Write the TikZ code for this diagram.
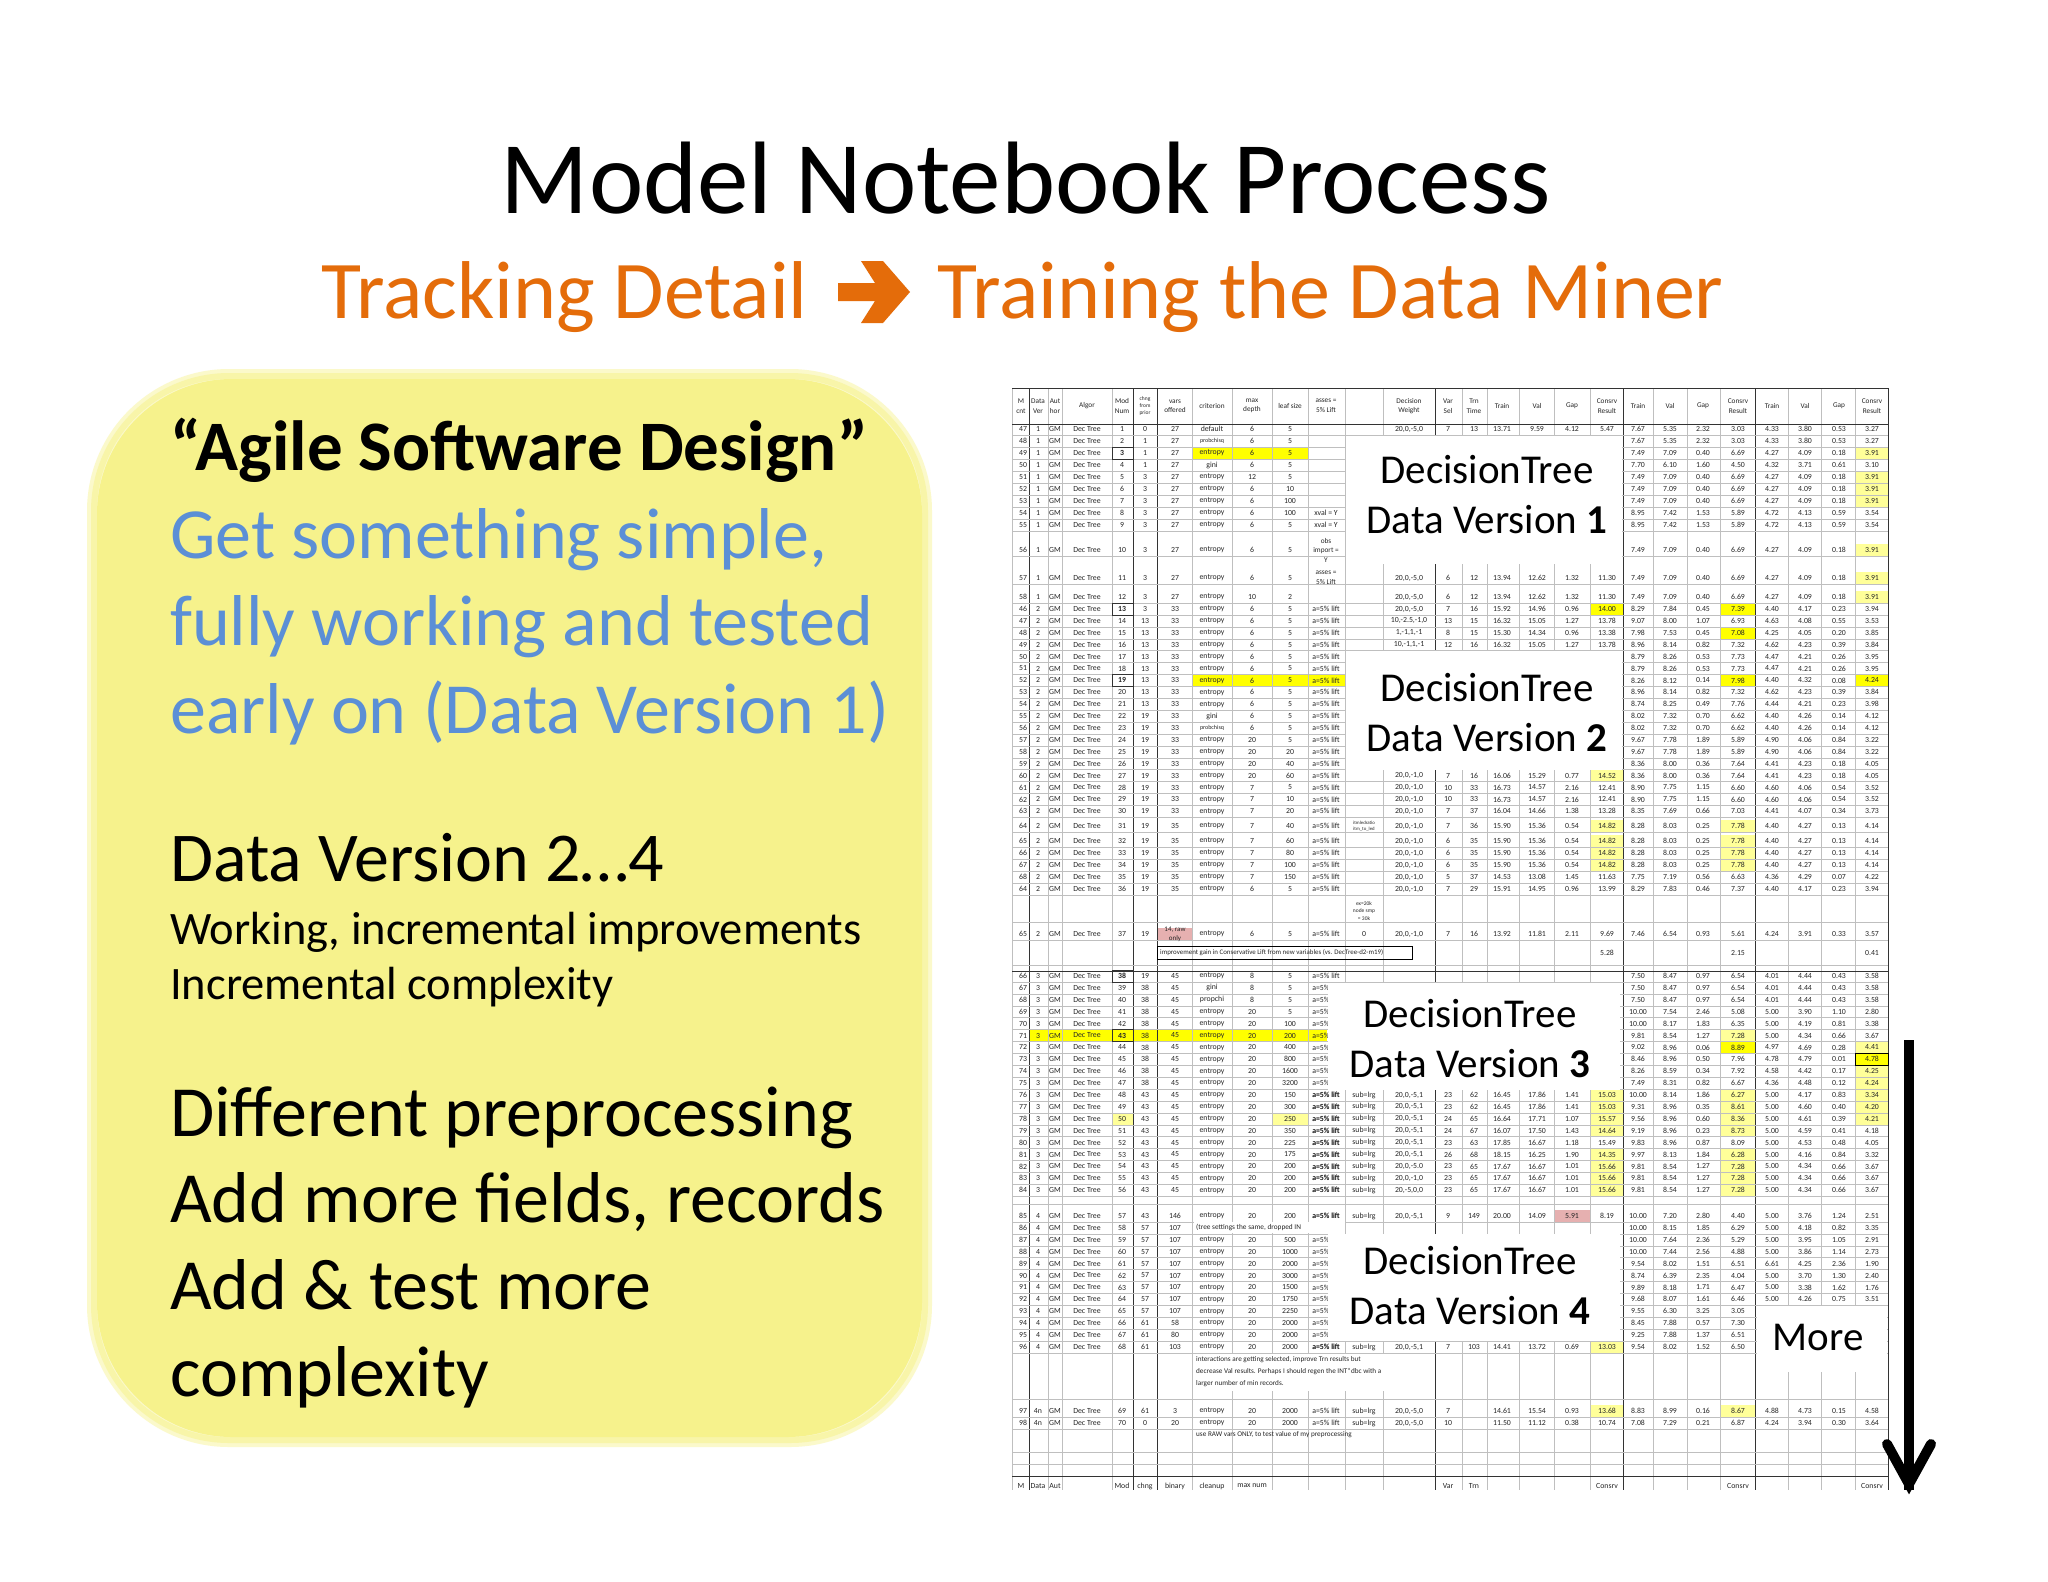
\documentclass[tikz,border=0pt]{standalone}
\usepackage{fontspec}
\setmainfont{Carlito}
\definecolor{orng}{HTML}{E46C0A}
\definecolor{blu}{HTML}{5B8FD6}
\definecolor{pyel}{HTML}{F6F28C}
\definecolor{hy}{HTML}{FFFF00}
\definecolor{ly}{HTML}{FFFF99}
\definecolor{pk}{HTML}{E6B0B0}
\tikzset{
 cl/.style={font=\fontsize{7.8}{7.8}\selectfont, inner sep=0pt, anchor=center, text=black!85},
 sm/.style={font=\fontsize{6.3}{6.3}\selectfont},
 lab/.style={font=\fontsize{41}{44}\selectfont, inner sep=0pt, anchor=center},
 gl/.style={draw=black!25, line width=0.5pt},
}
\newcommand\Lrow[9]{%
 \node[cl] at (1023,#1) {#2}; \node[cl] at (1038,#1) {#3}; \node[cl] at (1055,#1) {GM};
 \node[cl] at (1087,#1) {Dec Tree}; \node[cl] at (1122,#1) {#4}; \node[cl] at (1145,#1) {#5};
 \node[cl] at (1175,#1) {#6}; \node[cl] at (1212,#1) {#7}; \node[cl] at (1252,#1) {#8};
 \node[cl] at (1290,#1) {#9};
 \draw[gl] (1012,#1+6) -- (1888,#1+6);}
\newcommand\Rrow[9]{%
 \node[cl] at (1638,#1) {#2}; \node[cl] at (1670,#1) {#3}; \node[cl] at (1703,#1) {#4};
 \node[cl] at (1738,#1) {#5}; \node[cl] at (1772,#1) {#6}; \node[cl] at (1805,#1) {#7};
 \node[cl] at (1839,#1) {#8}; \node[cl] at (1872,#1) {#9};}
\newcommand\Mrow[9]{%
 \node[cl] at (1326,#1) {#2}; \node[cl] at (1409,#1) {#3}; \node[cl] at (1448,#1) {#4};
 \node[cl] at (1474,#1) {#5}; \node[cl] at (1502,#1) {#6}; \node[cl] at (1537,#1) {#7};
 \node[cl] at (1572,#1) {#8}; \node[cl] at (1607,#1) {#9};}
\newcommand\hcell[4][hy]{\fill[#1] (#2,#3-6) rectangle (#4,#3+6);}
\begin{document}
\begin{tikzpicture}[x=1pt,y=-1pt]
\useasboundingbox[fill=white] (0,0) rectangle (2048,1582);
% title
\node[font=\fontsize{103}{106}\selectfont, inner sep=0] (title) at (1026,178) {Model Notebook Process};
\node[font=\fontsize{82}{86}\selectfont, text=orng, inner sep=0, anchor=base east] (st1) at (808,318) {Tracking Detail};
\node[font=\fontsize{82}{86}\selectfont, text=orng, inner sep=0, anchor=base west] (st2) at (937,318) {Training the Data Miner};
\fill[orng] (838,283) -- (875,283) -- (861,261) -- (883,261) -- (910,292) -- (883,323) -- (861,323) -- (875,301) -- (838,301) -- cycle;
% yellow box
\draw[line width=14pt, draw=pyel!45, rounded corners=135pt] (94,376) rectangle (925,1440);
\draw[line width=6pt, draw=pyel!75, rounded corners=135pt] (94,376) rectangle (925,1440);
\fill[pyel, rounded corners=135pt] (97,379) rectangle (922,1437);
\node[font=\bfseries\fontsize{71}{74}\selectfont, anchor=base west, inner sep=0] (agile) at (170,470) {“Agile Software Design”};
\node[font=\fontsize{72}{76}\selectfont, text=blu, anchor=base west, inner sep=0] (b1) at (170,558) {Get something simple,};
\node[font=\fontsize{72}{76}\selectfont, text=blu, anchor=base west, inner sep=0] (b2) at (170,645) {fully working and tested};
\node[font=\fontsize{72}{76}\selectfont, text=blu, anchor=base west, inner sep=0] (b3) at (170,733) {early on (Data Version 1)};
\node[font=\fontsize{70}{74}\selectfont, anchor=base west, inner sep=0] (dv) at (170,881) {Data Version 2…4};
\node[font=\fontsize{46.5}{50}\selectfont, anchor=base west, inner sep=0] (w1) at (170,944) {Working, incremental improvements};
\node[font=\fontsize{46.5}{50}\selectfont, anchor=base west, inner sep=0] (w2) at (170,999) {Incremental complexity};
\node[font=\fontsize{72}{76}\selectfont, anchor=base west, inner sep=0] (d1) at (170,1136) {Different preprocessing};
\node[font=\fontsize{72}{76}\selectfont, anchor=base west, inner sep=0] (d2) at (170,1222) {Add more fields, records};
\node[font=\fontsize{72}{76}\selectfont, anchor=base west, inner sep=0] (d3) at (170,1309) {Add \& test more};
\node[font=\fontsize{72}{76}\selectfont, anchor=base west, inner sep=0] (d4) at (170,1396) {complexity};
% ---------- spreadsheet highlights ----------
\hcell{1192}{453}{1308}
\foreach \y in {453,477,489,501,550,578,597}{\hcell[ly]{1855}{\y}{1888}}
\hcell{1590}{609}{1623} \hcell{1720}{609}{1755}
\hcell{1192}{680.4}{1345} \hcell{1720}{680.4}{1755} \hcell{1855}{680.4}{1888}
\hcell{1720}{632.8}{1755} \hcell[ly]{1590}{775.6}{1623}
\foreach \y in {826,841,853,865}{\hcell[ly]{1590}{\y}{1623}\hcell[ly]{1720}{\y}{1755}}
\hcell[pk]{1157}{934}{1192}
\hcell{1029}{1035.5}{1112} \hcell{1133}{1035.5}{1327}\hcell[ly]{1720}{1035.5}{1755}
\hcell{1112}{1035.5}{1133}
\foreach \y in {1047.4,1071.2,1083.1}{\hcell[ly]{1855}{\y}{1888}}
\hcell{1855}{1059.3}{1888} \hcell{1720}{1047.4}{1755}
\foreach \y in {1095,1106.9,1118.8}{\hcell[ly]{1720}{\y}{1755}\hcell[ly]{1855}{\y}{1888}\hcell[ly]{1590}{\y}{1623}}
\hcell[ly]{1720}{1130.7}{1755}\hcell[ly]{1590}{1130.7}{1623}
\foreach \y in {1154.5,1166.4,1178.3,1190.2}{\hcell[ly]{1720}{\y}{1755}\hcell[ly]{1590}{\y}{1623}}
\hcell[ly]{1112}{1118.8}{1133}\hcell[ly]{1272}{1118.8}{1308}
\hcell[pk]{1555}{1216}{1590}
\hcell[ly]{1590}{1347}{1623}
\hcell[ly]{1590}{1411}{1623}\hcell[ly]{1720}{1411}{1755}
% ---------- grid ----------
\foreach \x in {1012,1048,1062,1112,1192,1232,1272,1308,1345,1383,1462,1487,1519,1554,1590,1653,1687,1720,1788,1821,1855}
 {\draw[gl] (\x,388) -- (\x,1490);}
\foreach \x in {1029,1133,1157,1435,1623,1755,1888}
 {\draw[black!80, line width=0.9pt] (\x,388) -- (\x,1490);}
\draw[black!80, line width=0.9pt] (1012,388) -- (1888,388);
\draw[black!80, line width=1pt] (1012,424) -- (1888,424);
\draw[black!80, line width=0.9pt] (1012,603) -- (1888,603);
\draw[black!80, line width=0.9pt] (1012,971) -- (1888,971);
\draw[black!80, line width=0.9pt] (1012,1476) -- (1888,1476);
% header
\foreach \x/\t in {1021/{M\\cnt},1038/{Data\\Ver},1055/{Aut\\hor},1087/{Algor},1122/{Mod\\Num},1175/{vars\\offered},1212/{criterion},1252/{max\\depth},1290/{leaf size},1326/{asses =\\5\% Lift},1409/{Decision\\Weight},1448/{Var\\Sel},1474/{Trn\\Time},1502/{Train},1537/{Val},1572/{Gap},1607/{Consrv\\Result},1638/{Train},1670/{Val},1703/{Gap},1738/{Consrv\\Result},1772/{Train},1805/{Val},1839/{Gap},1872/{Consrv\\Result}}
 {\node[cl, align=center, font=\fontsize{7.3}{9.5}\selectfont] at (\x,406) {\t};}
\node[cl, align=center, font=\fontsize{5.5}{7}\selectfont] at (1145,406) {chng\\from\\prior};
% ---------- section 1 ----------
\Lrow{429}{47}{1}{1}{0}{27}{default}{6}{5}
\Lrow{441}{48}{1}{2}{1}{27}{\scriptsize\fontsize{6}{6}\selectfont probchisq}{6}{5}
\Lrow{453}{49}{1}{\textbf{3}}{1}{27}{entropy}{6}{5}
\Lrow{465}{50}{1}{4}{1}{27}{gini}{6}{5}
\Lrow{477}{51}{1}{5}{3}{27}{entropy}{12}{5}
\Lrow{489}{52}{1}{6}{3}{27}{entropy}{6}{10}
\Lrow{501}{53}{1}{7}{3}{27}{entropy}{6}{100}
\Lrow{513}{54}{1}{8}{3}{27}{entropy}{6}{100}
\Lrow{525}{55}{1}{9}{3}{27}{entropy}{6}{5}
\Lrow{550}{56}{1}{10}{3}{27}{entropy}{6}{5}
\Lrow{578}{57}{1}{11}{3}{27}{entropy}{6}{5}
\Lrow{597}{58}{1}{12}{3}{27}{entropy}{10}{2}
\draw[black!80,line width=0.7pt] (1112,447) rectangle (1133,459);
\node[cl] at (1326,513) {xval = Y}; \node[cl] at (1326,525) {xval = Y};
\node[cl, align=center, font=\fontsize{7.3}{9.5}\selectfont] at (1326,550) {obs\\import =\\Y};
\Mrow{429}{}{20,0,-5,0}{7}{13}{13.71}{9.59}{4.12}{5.47}
\Mrow{578}{}{20,0,-5,0}{6}{12}{13.94}{12.62}{1.32}{11.30}
\node[cl, align=center, font=\fontsize{7.3}{9.5}\selectfont] at (1326,578) {asses =\\5\% Lift};
\Mrow{597}{}{20,0,-5,0}{6}{12}{13.94}{12.62}{1.32}{11.30}
\Rrow{429}{7.67}{5.35}{2.32}{3.03}{4.33}{3.80}{0.53}{3.27}
\Rrow{441}{7.67}{5.35}{2.32}{3.03}{4.33}{3.80}{0.53}{3.27}
\Rrow{453}{7.49}{7.09}{0.40}{6.69}{4.27}{4.09}{0.18}{3.91}
\Rrow{465}{7.70}{6.10}{1.60}{4.50}{4.32}{3.71}{0.61}{3.10}
\Rrow{477}{7.49}{7.09}{0.40}{6.69}{4.27}{4.09}{0.18}{3.91}
\Rrow{489}{7.49}{7.09}{0.40}{6.69}{4.27}{4.09}{0.18}{3.91}
\Rrow{501}{7.49}{7.09}{0.40}{6.69}{4.27}{4.09}{0.18}{3.91}
\Rrow{513}{8.95}{7.42}{1.53}{5.89}{4.72}{4.13}{0.59}{3.54}
\Rrow{525}{8.95}{7.42}{1.53}{5.89}{4.72}{4.13}{0.59}{3.54}
\Rrow{550}{7.49}{7.09}{0.40}{6.69}{4.27}{4.09}{0.18}{3.91}
\Rrow{578}{7.49}{7.09}{0.40}{6.69}{4.27}{4.09}{0.18}{3.91}
\Rrow{597}{7.49}{7.09}{0.40}{6.69}{4.27}{4.09}{0.18}{3.91}
% ---------- section 2 ----------
\foreach [count=\k from 0] \c/\m/\ch/\cr/\d/\l in {46/\textbf{13}/3/entropy/6/5,47/14/13/entropy/6/5,48/15/13/entropy/6/5,49/16/13/entropy/6/5,50/17/13/entropy/6/5,51/18/13/entropy/6/5,52/\textbf{19}/13/entropy/6/5,53/20/13/entropy/6/5,54/21/13/entropy/6/5,55/22/19/gini/6/5,56/23/19/{\fontsize{6}{6}\selectfont probchisq}/6/5,57/24/19/entropy/20/5,58/25/19/entropy/20/20,59/26/19/entropy/20/40,60/27/19/entropy/20/60,61/28/19/entropy/7/5,62/29/19/entropy/7/10,63/30/19/entropy/7/20}
 {\pgfmathsetmacro\yy{609+11.9*\k}
  \Lrow{\yy}{\c}{2}{\m}{\ch}{33}{\cr}{\d}{\l}
  \node[cl] at (1326,\yy) {a=5\% lift};}
\foreach \y/\c/\m/\d/\l in {826/64/31/7/40,841/65/32/7/60,853/66/33/7/80,865/67/34/7/100,877/68/35/7/150,889/64/36/6/5}
 {\Lrow{\y}{\c}{2}{\m}{19}{35}{entropy}{\d}{\l}
  \node[cl] at (1326,\y) {a=5\% lift};}
\node[cl, align=center, font=\fontsize{4.8}{5.5}\selectfont] at (1364,826) {itmledratio\\itm\_to\_led};
\Lrow{934}{65}{2}{37}{19}{}{entropy}{6}{5}
\node[cl, align=center, font=\fontsize{7}{9}\selectfont] at (1175,934) {14, raw\\only};
\node[cl] at (1326,934) {a=5\% lift}; \node[cl] at (1364,934) {0};
\node[cl, align=center, font=\fontsize{5.5}{7.5}\selectfont] at (1364,911) {ex=20k\\node smp\\= 30k};
\foreach \y/\w/\v/\t/\a/\b/\g/\s in {609/{20,0,-5,0}/7/16/15.92/14.96/0.96/14.00,620.9/{10,-2.5,-1,0}/13/15/16.32/15.05/1.27/13.78,632.8/{1,-1,1,-1}/8/15/15.30/14.34/0.96/13.38,644.7/{10,-1,1,-1}/12/16/16.32/15.05/1.27/13.78,775.6/{20,0,-1,0}/7/16/16.06/15.29/0.77/14.52,787.5/{20,0,-1,0}/10/33/16.73/14.57/2.16/12.41,799.4/{20,0,-1,0}/10/33/16.73/14.57/2.16/12.41,811.3/{20,0,-1,0}/7/37/16.04/14.66/1.38/13.28,826/{20,0,-1,0}/7/36/15.90/15.36/0.54/14.82,841/{20,0,-1,0}/6/35/15.90/15.36/0.54/14.82,853/{20,0,-1,0}/6/35/15.90/15.36/0.54/14.82,865/{20,0,-1,0}/6/35/15.90/15.36/0.54/14.82,877/{20,0,-1,0}/5/37/14.53/13.08/1.45/11.63,889/{20,0,-1,0}/7/29/15.91/14.95/0.96/13.99,934/{20,0,-1,0}/7/16/13.92/11.81/2.11/9.69}
 {\Mrow{\y}{}{\w}{\v}{\t}{\a}{\b}{\g}{\s}}
\foreach \y/\a/\b/\g/\s/\e/\f/\h/\i in {609/8.29/7.84/0.45/7.39/4.40/4.17/0.23/3.94,620.9/9.07/8.00/1.07/6.93/4.63/4.08/0.55/3.53,632.8/7.98/7.53/0.45/7.08/4.25/4.05/0.20/3.85,644.7/8.96/8.14/0.82/7.32/4.62/4.23/0.39/3.84,656.6/8.79/8.26/0.53/7.73/4.47/4.21/0.26/3.95,668.5/8.79/8.26/0.53/7.73/4.47/4.21/0.26/3.95,680.4/8.26/8.12/0.14/7.98/4.40/4.32/0.08/4.24,692.3/8.96/8.14/0.82/7.32/4.62/4.23/0.39/3.84,704.2/8.74/8.25/0.49/7.76/4.44/4.21/0.23/3.98,716.1/8.02/7.32/0.70/6.62/4.40/4.26/0.14/4.12,728/8.02/7.32/0.70/6.62/4.40/4.26/0.14/4.12,739.9/9.67/7.78/1.89/5.89/4.90/4.06/0.84/3.22,751.8/9.67/7.78/1.89/5.89/4.90/4.06/0.84/3.22,763.7/8.36/8.00/0.36/7.64/4.41/4.23/0.18/4.05,775.6/8.36/8.00/0.36/7.64/4.41/4.23/0.18/4.05,787.5/8.90/7.75/1.15/6.60/4.60/4.06/0.54/3.52,799.4/8.90/7.75/1.15/6.60/4.60/4.06/0.54/3.52,811.3/8.35/7.69/0.66/7.03/4.41/4.07/0.34/3.73,826/8.28/8.03/0.25/7.78/4.40/4.27/0.13/4.14,841/8.28/8.03/0.25/7.78/4.40/4.27/0.13/4.14,853/8.28/8.03/0.25/7.78/4.40/4.27/0.13/4.14,865/8.28/8.03/0.25/7.78/4.40/4.27/0.13/4.14,877/7.75/7.19/0.56/6.63/4.36/4.29/0.07/4.22,889/8.29/7.83/0.46/7.37/4.40/4.17/0.23/3.94,934/7.46/6.54/0.93/5.61/4.24/3.91/0.33/3.57}
 {\Rrow{\y}{\a}{\b}{\g}{\s}{\e}{\f}{\h}{\i}}
\draw[black!80, line width=0.7pt] (1112,603) rectangle (1133,615);
\draw[black!80, line width=0.7pt] (1112,674.4) rectangle (1133,686.4);
\draw[gl] (1012,922) -- (1888,922);
\draw[black, line width=0.8pt] (1157,946) rectangle (1412,959);
\node[cl, anchor=west, font=\fontsize{6.9}{7}\selectfont] at (1160,952.5) {improvement gain in Conservative Lift  from new variables (vs. DecTree-d2-m19)};
\node[cl] at (1607,952.5) {5.28}; \node[cl] at (1738,952.5) {2.15}; \node[cl] at (1872,952.5) {0.41};
\draw[gl] (1012,965) -- (1888,965);
% ---------- section 3 ----------
\foreach [count=\k from 0] \c/\m/\ch/\cr/\d/\l in {66/\textbf{38}/19/entropy/8/5,67/39/38/gini/8/5,68/40/38/propchi/8/5,69/41/38/entropy/20/5,70/42/38/entropy/20/100,71/\textbf{43}/38/entropy/20/200,72/44/38/entropy/20/400,73/45/38/entropy/20/800,74/46/38/entropy/20/1600,75/47/38/entropy/20/3200,76/48/43/entropy/20/150,77/49/43/entropy/20/300,78/50/43/entropy/20/250,79/51/43/entropy/20/350,80/52/43/entropy/20/225,81/53/43/entropy/20/175,82/54/43/entropy/20/200,83/55/43/entropy/20/200,84/56/43/entropy/20/200}
 {\pgfmathsetmacro\yy{976+11.9*\k}
  \Lrow{\yy}{\c}{3}{\m}{\ch}{45}{\cr}{\d}{\l}
  \node[cl] at (1326,\yy) {a=5\% lift};}
\draw[black!80, line width=0.7pt] (1112,970) rectangle (1133,982);
\draw[black!80, line width=0.7pt] (1112,1029.5) rectangle (1133,1041.5);
\foreach \y/\w/\v/\t/\a/\b/\g/\s in {1095/{20,0,-5,1}/23/62/16.45/17.86/1.41/15.03,1106.9/{20,0,-5,1}/23/62/16.45/17.86/1.41/15.03,1118.8/{20,0,-5,1}/24/65/16.64/17.71/1.07/15.57,1130.7/{20,0,-5,1}/24/67/16.07/17.50/1.43/14.64,1142.6/{20,0,-5,1}/23/63/17.85/16.67/1.18/15.49,1154.5/{20,0,-5,1}/26/68/18.15/16.25/1.90/14.35,1166.4/{20,0,-5.0}/23/65/17.67/16.67/1.01/15.66,1178.3/{20,0,-1,0}/23/65/17.67/16.67/1.01/15.66,1190.2/{20,-5,0,0}/23/65/17.67/16.67/1.01/15.66}
 {\Mrow{\y}{a=5\% lift}{\w}{\v}{\t}{\a}{\b}{\g}{\s}\node[cl] at (1364,\y) {sub=lrg};}
\foreach \y/\a/\b/\g/\s/\e/\f/\h/\i in {976/7.50/8.47/0.97/6.54/4.01/4.44/0.43/3.58,987.9/7.50/8.47/0.97/6.54/4.01/4.44/0.43/3.58,999.8/7.50/8.47/0.97/6.54/4.01/4.44/0.43/3.58,1011.7/10.00/7.54/2.46/5.08/5.00/3.90/1.10/2.80,1023.6/10.00/8.17/1.83/6.35/5.00/4.19/0.81/3.38,1035.5/9.81/8.54/1.27/7.28/5.00/4.34/0.66/3.67,1047.4/9.02/8.96/0.06/8.89/4.97/4.69/0.28/4.41,1059.3/8.46/8.96/0.50/7.96/4.78/4.79/0.01/4.78,1071.2/8.26/8.59/0.34/7.92/4.58/4.42/0.17/4.25,1083.1/7.49/8.31/0.82/6.67/4.36/4.48/0.12/4.24,1095/10.00/8.14/1.86/6.27/5.00/4.17/0.83/3.34,1106.9/9.31/8.96/0.35/8.61/5.00/4.60/0.40/4.20,1118.8/9.56/8.96/0.60/8.36/5.00/4.61/0.39/4.21,1130.7/9.19/8.96/0.23/8.73/5.00/4.59/0.41/4.18,1142.6/9.83/8.96/0.87/8.09/5.00/4.53/0.48/4.05,1154.5/9.97/8.13/1.84/6.28/5.00/4.16/0.84/3.32,1166.4/9.81/8.54/1.27/7.28/5.00/4.34/0.66/3.67,1178.3/9.81/8.54/1.27/7.28/5.00/4.34/0.66/3.67,1190.2/9.81/8.54/1.27/7.28/5.00/4.34/0.66/3.67}
 {\Rrow{\y}{\a}{\b}{\g}{\s}{\e}{\f}{\h}{\i}}
\draw[black, line width=0.8pt] (1855,1053.3) rectangle (1888,1065.3);
\draw[gl] (1012,1204) -- (1888,1204);
% ---------- section 4 ----------
\foreach [count=\k from 0] \m/\ch/\va/\l in {57/43/146/200,58/57/107/,59/57/107/500,60/57/107/1000,61/57/107/2000,62/57/107/3000,63/57/107/1500,64/57/107/1750,65/57/107/2250,66/61/58/2000,67/61/80/2000,68/61/103/2000}
 {\pgfmathsetmacro\yy{1216+11.9*\k}\pgfmathtruncatemacro\cc{85+\k}
  \Lrow{\yy}{\cc}{4}{\m}{\ch}{\va}{entropy}{20}{\l}
  \node[cl] at (1326,\yy) {a=5\% lift};}
\fill[white] (1194,1222) rectangle (1345,1233);
\node[cl, anchor=west, font=\fontsize{7.3}{7.3}\selectfont] at (1196,1227.9) {(tree settings the same, dropped IN};
\Mrow{1216}{a=5\% lift}{20,0,-5,1}{9}{149}{20.00}{14.09}{5.91}{8.19}\node[cl] at (1364,1216) {sub=lrg};
\Mrow{1347}{a=5\% lift}{20,0,-5,1}{7}{103}{14.41}{13.72}{0.69}{13.03}\node[cl] at (1364,1347) {sub=lrg};
\foreach \y/\a/\b/\g/\s/\e/\f/\h/\i in {1216/10.00/7.20/2.80/4.40/5.00/3.76/1.24/2.51,1227.9/10.00/8.15/1.85/6.29/5.00/4.18/0.82/3.35,1239.8/10.00/7.64/2.36/5.29/5.00/3.95/1.05/2.91,1251.7/10.00/7.44/2.56/4.88/5.00/3.86/1.14/2.73,1263.6/9.54/8.02/1.51/6.51/6.61/4.25/2.36/1.90,1275.5/8.74/6.39/2.35/4.04/5.00/3.70/1.30/2.40,1287.4/9.89/8.18/1.71/6.47/5.00/3.38/1.62/1.76,1299.3/9.68/8.07/1.61/6.46/5.00/4.26/0.75/3.51,1311.2/9.55/6.30/3.25/3.05////,1323.1/8.45/7.88/0.57/7.30////,1335/9.25/7.88/1.37/6.51////,1347/9.54/8.02/1.52/6.50////}
 {\Rrow{\y}{\a}{\b}{\g}{\s}{\e}{\f}{\h}{\i}}
\fill[white] (1194,1354) rectangle (1435,1391);
\node[cl, anchor=west, align=left, font=\fontsize{7.2}{12}\selectfont] at (1196,1372) {interactions are getting selected, improve Trn results but\\decrease Val results.  Perhaps I should regen the INT*dbc with a\\larger number of min records.};
\draw[gl] (1012,1399) -- (1888,1399);
\Lrow{1411}{97}{4n}{69}{61}{3}{entropy}{20}{2000}
\Lrow{1423}{98}{4n}{70}{0}{20}{entropy}{20}{2000}
\Mrow{1411}{a=5\% lift}{20,0,-5,0}{7}{}{14.61}{15.54}{0.93}{13.68}\node[cl] at (1364,1411) {sub=lrg};
\Mrow{1423}{a=5\% lift}{20,0,-5,0}{10}{}{11.50}{11.12}{0.38}{10.74}\node[cl] at (1364,1423) {sub=lrg};
\Rrow{1411}{8.83}{8.99}{0.16}{8.67}{4.88}{4.73}{0.15}{4.58}
\Rrow{1423}{7.08}{7.29}{0.21}{6.87}{4.24}{3.94}{0.30}{3.64}
\node[cl, anchor=west, font=\fontsize{7.2}{7.2}\selectfont] at (1196,1435) {use RAW vars ONLY, to test value of my preprocessing};
\draw[gl] (1012,1452) -- (1888,1452); \draw[gl] (1012,1464) -- (1888,1464);
\begin{scope}
\clip (1005,1476) rectangle (1895,1490);
\foreach \x/\t in {1021/M,1038/Data,1055/Aut,1122/Mod,1145/chng,1175/binary,1212/cleanup,1252/max num,1448/Var,1474/Trn,1607/Consrv,1738/Consrv,1872/Consrv}
 {\node[cl] at (\x,1486) {\t};}
\end{scope}
% ---------- label boxes ----------
\fill[white] (1346,436) rectangle (1622,564);
\fill[white] (1346,651) rectangle (1622,770);
\fill[white] (1328,983) rectangle (1620,1090);
\fill[white] (1328,1234) rectangle (1620,1341);
\fill[white] (1757,1306) rectangle (1887,1372);
\node[lab] (l1a) at (1487,470) {DecisionTree};
\node[lab] (l1b) at (1487,520) {Data Version \textbf{1}};
\node[lab] (l2a) at (1487,688) {DecisionTree};
\node[lab] (l2b) at (1487,738) {Data Version \textbf{2}};
\node[lab] (l3a) at (1470,1014) {DecisionTree};
\node[lab] (l3b) at (1470,1064) {Data Version \textbf{3}};
\node[lab] (l4a) at (1470,1261) {DecisionTree};
\node[lab] (l4b) at (1470,1311) {Data Version \textbf{4}};
\node[lab] (more) at (1818,1337) {More};
% arrow
\coordinate (as) at (1909,1040);
\coordinate (ae) at (1909,1484);
\draw[line width=10pt] (as) -- ([yshift=-6pt]ae);
\draw[line width=10pt, line cap=round, line join=miter] (1887,1444) -- (ae) -- (1931,1444);
\end{tikzpicture}
\end{document}
